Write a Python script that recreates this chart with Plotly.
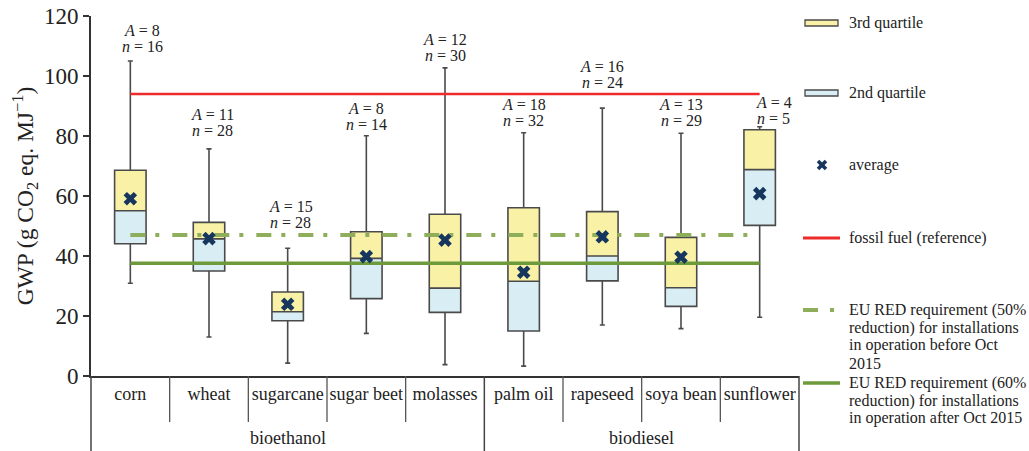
import plotly.graph_objects as go

# ---------------- data ----------------
groups = ["bioethanol"] * 5 + ["biodiesel"] * 4
categories = ["corn", "wheat", "sugarcane", "sugar beet", "molasses",
              "palm oil", "rapeseed", "soya bean", "sunflower"]
upper = [105.0, 75.7, 42.6, 80.1, 102.7, 81.1, 89.3, 80.9, 83.1]
q3 = [68.6, 51.2, 28.0, 48.1, 53.9, 56.1, 54.8, 46.2, 82.1]
median = [55.1, 45.7, 21.4, 39.2, 29.3, 31.6, 40.0, 29.4, 68.8]
q1 = [44.1, 35.0, 18.4, 25.8, 21.2, 15.0, 31.7, 23.2, 50.2]
lower = [30.9, 13.0, 4.3, 14.2, 3.8, 3.3, 17.0, 15.8, 19.6]
average = [59.1, 45.8, 23.9, 39.8, 45.3, 34.6, 46.4, 39.6, 60.8]
A_vals = [8, 11, 15, 8, 12, 18, 16, 13, 4]
n_vals = [16, 28, 28, 14, 30, 32, 24, 29, 5]
fossil_ref = 94.0
eu_red_50 = 47.0
eu_red_60 = 37.6

# label placement (positions, not data)
label_y = [109.7, 82.0, 51.3, 84.0, 106.8, 85.3, 98.0, 85.3, 85.9]
label_xshift = [12, 3, 3, 0, 0, 0, 0, 0, 14]

ends = [categories[0], categories[-1]]

YELLOW = "#f9f2a6"
BLUE = "#d8eef4"
OUT = "#4a4a4a"
NAVY = "#17365d"
RED = "#ee2b2b"
LGREEN = "#8fae5c"
DGREEN = "#6d9a3a"
SERIF = "Liberation Serif"

fig = go.Figure()

fig.add_trace(go.Bar(x=categories, y=[m - a for m, a in zip(median, q1)], base=q1,
                     width=0.4, marker=dict(color=BLUE, line=dict(width=0)),
                     showlegend=False))
fig.add_trace(go.Bar(x=categories, y=[b - m for b, m in zip(q3, median)], base=median,
                     width=0.4, marker=dict(color=YELLOW, line=dict(width=0)),
                     showlegend=False))
fig.add_trace(go.Box(x=categories, q1=q1, median=median, q3=q3, lowerfence=lower,
                     upperfence=upper, width=0.4, whiskerwidth=0.16,
                     fillcolor="rgba(0,0,0,0)", line=dict(color=OUT, width=1.6),
                     boxpoints=False, showlegend=False))

fig.add_trace(go.Scatter(x=ends, y=[fossil_ref, fossil_ref], mode="lines",
                         line=dict(color=RED, width=2.5), showlegend=False))
fig.add_trace(go.Scatter(x=ends, y=[eu_red_50, eu_red_50], mode="lines",
                         line=dict(color=LGREEN, width=4, dash="15px,10px,4px,13px"),
                         showlegend=False))
fig.add_trace(go.Scatter(x=ends, y=[eu_red_60, eu_red_60], mode="lines",
                         line=dict(color=DGREEN, width=3.5), showlegend=False))
fig.add_trace(go.Scatter(x=categories, y=average, mode="markers",
                         marker=dict(symbol="x", size=12, color=NAVY,
                                     line=dict(width=0)),
                         showlegend=False))

ncat = len(categories)
annotations = []
for i, (a, n, ly, xs) in enumerate(zip(A_vals, n_vals, label_y, label_xshift)):
    xp = (i + 0.5) / ncat
    annotations.append(dict(x=xp, xref="paper", y=ly, yref="y", xanchor="center",
                            yanchor="middle", text=f"<i>n</i> = {n}", showarrow=False,
                            xshift=xs, font=dict(family=SERIF, size=16, color="#222")))
    annotations.append(dict(x=xp, xref="paper", y=ly, yref="y", yshift=16,
                            xanchor="center", yanchor="middle",
                            text=f"<i>A</i> = {a}", showarrow=False,
                            xshift=xs, font=dict(family=SERIF, size=16, color="#222")))

# ---------- paper-coordinate helpers ----------
PL, PW, PT, PH = 91, 708, 16, 360


def px(xp):
    return (xp - PL) / PW


def py(yp):
    return (PT + PH - yp) / PH


shapes = []
# category boundary ticks and group dividers
group_names = []
for g in groups:
    if g not in group_names:
        group_names.append(g)
bounds = [0]
for g in group_names:
    bounds.append(bounds[-1] + groups.count(g))
for k in range(ncat + 1):
    if k in bounds:
        shapes.append(dict(type="line", xref="paper", yref="paper", x0=k / ncat, x1=k / ncat,
                           y0=0, y1=py(452), line=dict(color="#444", width=1.5)))
    else:
        shapes.append(dict(type="line", xref="paper", yref="paper", x0=k / ncat, x1=k / ncat,
                           y0=0, y1=py(422), line=dict(color="#555", width=1.3)))
for gi, g in enumerate(group_names):
    annotations.append(dict(x=(bounds[gi] + bounds[gi + 1]) / 2 / ncat, y=py(438),
                            xref="paper", yref="paper", text=g, showarrow=False,
                            xanchor="center", yanchor="middle",
                            font=dict(family=SERIF, size=18, color="#222")))

legend_lines = [
    (23, ["3rd quartile"]),
    (93, ["2nd quartile"]),
    (165, ["average"]),
    (238, ["fossil fuel (reference)"]),
    (310, ["EU RED requirement (50%", "reduction) for installations",
           "in operation before Oct", "2015"]),
    (383, ["EU RED requirement (60%", "reduction) for installations",
           "in operation after Oct 2015"]),
]
for y0, lines in legend_lines:
    for i, t in enumerate(lines):
        annotations.append(dict(x=px(847), y=py(y0 + i * 17.7), xref="paper", yref="paper",
                                text=t, showarrow=False, xanchor="left", yanchor="middle",
                                font=dict(family=SERIF, size=16, color="#222")))

shapes += [
    dict(type="rect", xref="paper", yref="paper", x0=px(805), x1=px(838),
         y0=py(20), y1=py(26), fillcolor=YELLOW, line=dict(color=OUT, width=1.3)),
    dict(type="rect", xref="paper", yref="paper", x0=px(805), x1=px(838),
         y0=py(90), y1=py(96), fillcolor=BLUE, line=dict(color=OUT, width=1.3)),
    dict(type="line", xref="paper", yref="paper", x0=px(818), x1=px(826),
         y0=py(161), y1=py(169), line=dict(color=NAVY, width=3.5)),
    dict(type="line", xref="paper", yref="paper", x0=px(818), x1=px(826),
         y0=py(169), y1=py(161), line=dict(color=NAVY, width=3.5)),
    dict(type="line", xref="paper", yref="paper", x0=px(803), x1=px(840),
         y0=py(238), y1=py(238), line=dict(color=RED, width=3)),
    dict(type="line", xref="paper", yref="paper", x0=px(803), x1=px(818),
         y0=py(310), y1=py(310), line=dict(color=LGREEN, width=4)),
    dict(type="line", xref="paper", yref="paper", x0=px(830), x1=px(834),
         y0=py(310), y1=py(310), line=dict(color=LGREEN, width=4)),
    dict(type="line", xref="paper", yref="paper", x0=px(803), x1=px(840),
         y0=py(383), y1=py(383), line=dict(color=DGREEN, width=3.5)),
]

fig.update_layout(
    width=1029, height=451,
    margin=dict(l=91, r=230, t=16, b=75, autoexpand=False),
    plot_bgcolor="white", paper_bgcolor="white",
    barmode="overlay", bargap=0,
    annotations=annotations, shapes=shapes,
    font=dict(family=SERIF, color="#222"),
)
fig.update_xaxes(type="category", categoryorder="array", categoryarray=categories,
                 range=[-0.5, ncat - 0.5],
                 showline=True, linecolor="#333", linewidth=2, ticks="",
                 tickfont=dict(family=SERIF, size=18, color="#222"),
                 showgrid=False, zeroline=False, automargin=False)
fig.update_yaxes(range=[0, 120], tickvals=[0, 20, 40, 60, 80, 100, 120],
                 showline=True, linecolor="#333", linewidth=2,
                 ticks="outside", ticklen=6, tickcolor="#333", tickwidth=2,
                 tickfont=dict(family=SERIF, size=23, color="#222"),
                 title=dict(text="GWP (g CO<sub>2</sub> eq. MJ<sup>−1</sup>)",
                            font=dict(family=SERIF, size=23.5, color="#222"), standoff=4),
                 showgrid=False, zeroline=False, automargin=False)

fig.write_html("out.html")
